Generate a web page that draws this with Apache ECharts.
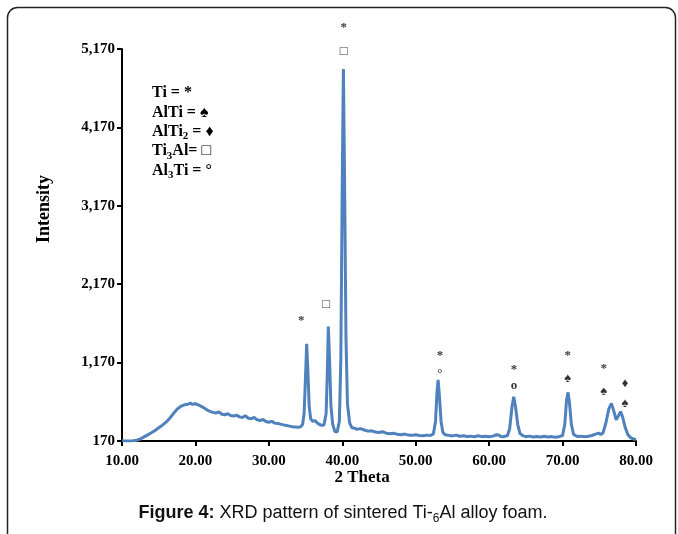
<!DOCTYPE html>
<html>
<head>
<meta charset="utf-8">
<script src="https://cdn.jsdelivr.net/npm/echarts@6/dist/echarts.min.js"></script>
<style>html,body{margin:0;padding:0;background:#fff}#c{width:678px;height:534px}</style>
</head>
<body>
<div id="c"></div>
<script>
// ---- data ----
var twoTheta = [10.0,10.5,11.0,11.5,12.0,12.5,13.0,13.5,14.0,14.5,15.0,15.5,16.0,16.5,17.0,17.5,18.0,18.5,19.0,19.3,19.6,20.0,20.4,20.8,21.2,21.6,22.0,22.4,22.8,23.2,23.6,24.0,24.4,24.8,25.2,25.6,26.0,26.4,26.8,27.2,27.6,28.0,28.4,28.8,29.2,29.6,30.0,30.4,30.8,31.2,31.6,32.0,32.4,32.8,33.2,33.6,34.0,34.3,34.6,34.8,35.0,35.15,35.3,35.5,35.7,36.0,36.3,36.6,36.9,37.2,37.5,37.8,37.95,38.1,38.25,38.45,38.7,39.0,39.3,39.6,39.8,40.0,40.15,40.3,40.5,40.7,41.0,41.3,41.6,42.0,42.5,43.0,43.5,44.0,44.5,45.0,45.5,46.0,46.5,47.0,47.5,48.0,48.5,49.0,49.5,50.0,50.5,51.0,51.5,52.0,52.4,52.7,52.9,53.05,53.2,53.45,53.7,54.0,54.5,55.0,55.5,56.0,56.5,57.0,57.5,58.0,58.5,59.0,59.5,60.0,60.5,61.0,61.3,61.6,62.0,62.5,62.8,63.1,63.35,63.6,63.9,64.2,64.6,65.0,65.5,66.0,66.5,67.0,67.5,68.0,68.5,69.0,69.5,70.0,70.3,70.55,70.75,70.95,71.2,71.5,72.0,72.5,73.0,73.5,74.0,74.5,74.9,75.2,75.5,75.9,76.3,76.65,76.95,77.3,77.6,77.9,78.2,78.5,78.9,79.3,79.7,80.0];
var intensity = [172,170,171,174,180,195,222,248,275,305,338,372,410,460,520,575,612,632,640,652,638,645,630,612,590,565,548,535,528,540,512,505,518,495,488,500,478,470,492,460,455,470,440,432,445,418,410,420,398,392,385,376,368,360,352,348,344,350,380,520,1000,1410,1100,600,450,420,430,400,380,370,375,520,1000,1630,1250,620,380,290,285,420,1200,3500,4915,3600,1500,650,400,340,335,320,328,310,296,300,285,278,288,270,262,268,255,250,258,245,242,250,240,236,245,240,260,420,800,950,780,420,280,250,242,235,245,230,238,228,232,225,236,226,230,224,232,250,248,228,225,240,330,600,735,600,380,265,238,225,232,222,228,220,230,222,226,218,225,240,380,700,790,650,380,255,228,232,225,230,240,258,270,255,270,400,580,650,560,440,490,545,470,350,250,210,195,188];

var yBase = 170;
var yTickStep = 1000;
var yTop = 5170;
var xMin = 10, xMax = 80, xStep = 10;

// peak annotations
var annX = [34.4, 37.8, 40.2, 40.2, 53.3, 53.3, 63.4, 63.4, 70.7, 70.7, 75.6, 75.6, 78.5, 78.5];
var annY = [1700, 1905, 5438, 5132, 1254, 1024, 1076, 871, 1254, 961, 1088, 795, 897, 642];
var annText = ['*', '□', '*', '□', '*', '°', '*', 'o', '*', '♠', '*', '♠', '♦', '♠'];

var legendLines = ['Ti = *', 'AlTi = ♠', 'AlTi{s|2} = ♦', 'Ti{s|3}Al= □', 'Al{s|3}Ti = °'];
var xTitle = '2 Theta';
var yTitle = 'Intensity';
var caption = '{b|Figure 4:} XRD pattern of sintered Ti-{s|6}Al alloy foam.';

// ---- chart ----
var serif = '"Liberation Serif", "Times New Roman", serif';
var sans = '"Liberation Sans", Arial, sans-serif';
var chart = echarts.init(document.getElementById('c'), null, {renderer: 'canvas'});

var lineData = twoTheta.map(function (x, i) { return [x, intensity[i] - yBase]; });
var annData = annX.map(function (x, i) { return {value: [x, annY[i] - yBase], txt: annText[i]}; });

var legendGraphics = legendLines.map(function (t, i) {
  return {
    type: 'text', left: 152, top: 85 + i * 19.4,
    style: {
      text: t, font: 'bold 16px ' + serif, fill: '#000',
      rich: { s: { font: 'bold 11px ' + serif, fill: '#000', padding: [9, 0, 0, 0] } }
    }
  };
});

chart.setOption({
  animation: false,
  backgroundColor: '#fff',
  grid: { left: 122, right: 42, top: 49, bottom: 93, containLabel: false },
  xAxis: {
    type: 'value', min: xMin, max: xMax, interval: xStep,
    axisLine: { onZero: false, lineStyle: { color: '#000', width: 2 } },
    axisTick: { length: 5, lineStyle: { color: '#000', width: 2 } },
    axisLabel: { fontFamily: serif, fontWeight: 'bold', fontSize: 15, color: '#000', margin: 13,
      formatter: function (v) { return v.toFixed(2); } },
    splitLine: { show: false }
  },
  yAxis: {
    type: 'value', min: 0, max: yTop - yBase, interval: yTickStep,
    axisLine: { show: true, onZero: false, lineStyle: { color: '#000', width: 2 } },
    axisTick: { show: true, length: 5, lineStyle: { color: '#000', width: 2 } },
    axisLabel: { fontFamily: serif, fontWeight: 'bold', fontSize: 15, color: '#000', margin: 7,
      formatter: function (v) { return (v + yBase).toLocaleString('en-US'); } },
    splitLine: { show: false }
  },
  series: [
    {
      type: 'line', data: lineData, showSymbol: false, smooth: false,
      lineStyle: { color: '#4F81BD', width: 3 }, z: 2
    },
    {
      type: 'scatter', data: annData, symbolSize: 0, clip: false, silent: true, z: 3,
      label: {
        show: true, position: 'inside', color: '#000',
        fontFamily: serif, fontSize: 13, fontWeight: 'bold',
        formatter: function (p) { return p.data.txt; }
      }
    }
  ],
  graphic: legendGraphics.concat([
    {
      type: 'rect', left: 5, top: 5, z: -1,
      shape: { width: 668, height: 580, r: 10 },
      style: { fill: 'none', stroke: '#222', lineWidth: 1.5 }
    },
    {
      type: 'text', x: 362, y: 478,
      style: { text: xTitle, font: 'bold 17px ' + serif, fill: '#000', align: 'center', verticalAlign: 'middle' }
    },
    {
      type: 'text', x: 44, y: 209, rotation: Math.PI / 2,
      style: { text: yTitle, font: 'bold 18px ' + serif, fill: '#000', align: 'center', verticalAlign: 'middle' }
    },
    {
      type: 'text', x: 343, y: 513,
      style: {
        text: caption, font: '18px ' + sans, fill: '#111', align: 'center', verticalAlign: 'middle',
        rich: {
          b: { font: 'bold 18px ' + sans, fill: '#111' },
          s: { font: '12px ' + sans, fill: '#111', padding: [11, 0, 0, 0] }
        }
      }
    }
  ])
});
</script>
</body>
</html>
